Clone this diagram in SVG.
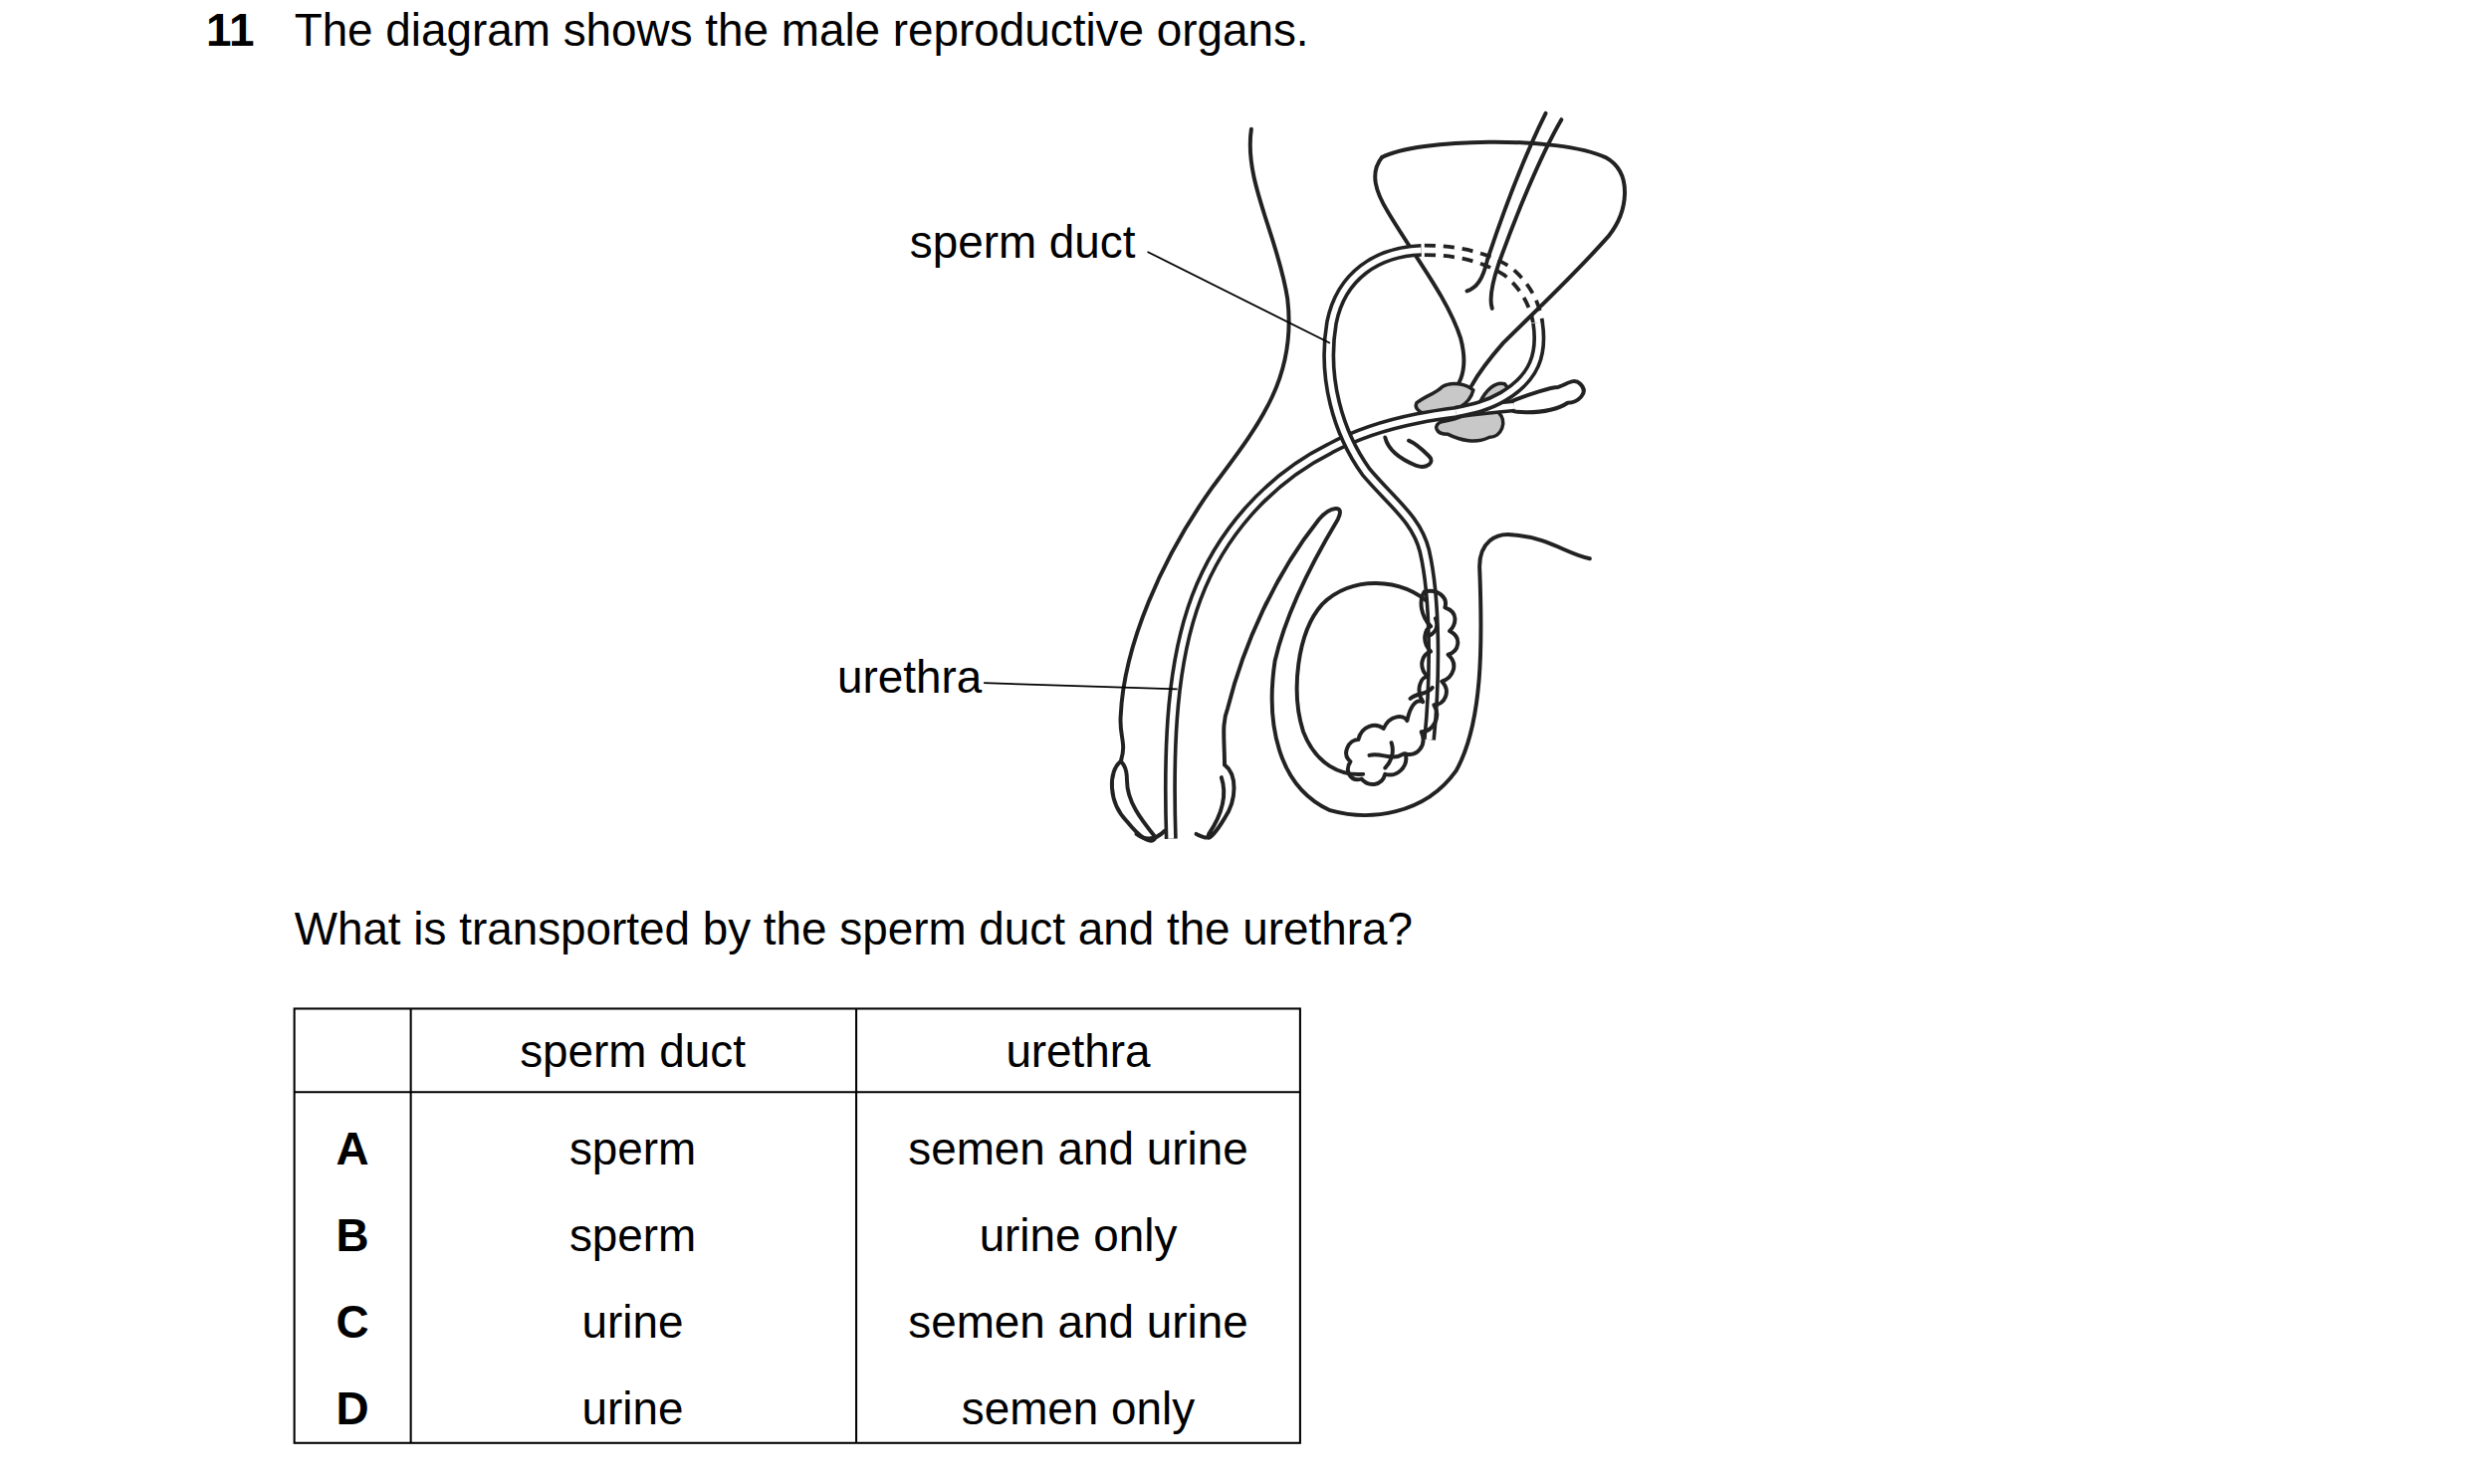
<svg xmlns="http://www.w3.org/2000/svg" width="2480" height="1491" viewBox="0 0 2480 1491">
<style>
.t{font-family:"Liberation Sans",Arial,sans-serif;font-size:29px;fill:#000}
.c{text-anchor:middle}
.b{font-weight:bold}
.o{fill:none;stroke:#222;stroke-width:2.5;stroke-linecap:round;stroke-linejoin:round}
.tb{fill:none;stroke:#222;stroke-width:8.2;stroke-linecap:butt}
.tw{fill:none;stroke:#fff;stroke-width:3.6;stroke-linecap:butt}
.d{fill:none;stroke:#222;stroke-width:2.4;stroke-dasharray:7,5}
.g{fill:#c8c8c8;stroke:#222;stroke-width:2.2}
.l{fill:none;stroke:#000;stroke-width:1.1}
.k{stroke:#000;stroke-width:1.3;fill:none}
</style>
<rect width="2480" height="1491" fill="#fff"/>
<g transform="scale(1.581)">
<g id="title">
<text class="t b" x="131" y="29">11</text>
<text class="t" x="187" y="29">The diagram shows the male reproductive organs.</text>
</g>
<g id="anatomy">
<path class="o" d="M795,82 C790,115 812,150 818,190 C824,240 800,270 770,310 C738,355 714,410 712,455 C711,468 716,472 712,484"/>
<path class="o" d="M712,484 C704,490 704,510 716,522 C724,532 732,538 734,532 C726,522 716,510 716,496 C716,486 712,484 712,484"/>
<path class="o" d="M740,528 C736,532 730,536 722,530"/>
<path class="o" d="M778,486 C778,470 776,460 780,450 C790,410 810,365 838,330 C845,322 855,320 850,330 C838,350 818,385 810,420 C804,460 812,500 845,515 C870,522 905,518 925,490 C942,460 942,410 940,360 C940,345 950,338 962,340 C985,342 995,352 1010,355"/>
<path class="o" d="M778,486 C786,492 786,508 778,520 C772,530 766,536 768,530 C776,518 780,506 776,494"/>
<path class="o" d="M760,530 C764,532 768,534 770,530"/>
<path class="o" d="M910,385 C890,366 858,366 840,384 C824,402 820,440 828,465 C836,486 852,493 866,492"/>
<path class="o" d="M878,100 C900,88 990,86 1020,100 C1038,110 1034,135 1022,150 C1000,175 975,198 955,218 C948,226 940,236 935,245"/>
<path class="o" d="M878,100 C870,110 874,122 882,135 C900,165 920,190 928,215 C932,230 930,242 922,250"/>
<path class="o" d="M982,72 C968,100 955,135 945,165 C942,178 938,183 932,185"/>
<path class="o" d="M992,76 C978,100 962,140 952,168 C948,180 946,190 948,196"/>
<path class="d" d="M905,156 C925,156 945,160 960,170 C972,180 978,192 980,205"/>
<path class="d" d="M905,162 C925,162 942,166 956,175 C966,183 972,194 974,205"/>
<path class="g" d="M900,256 C905,252 912,250 916,246 C922,242 932,244 936,248 C934,256 926,262 910,264 C904,264 898,260 900,256Z"/>
<path class="g" d="M940,256 C944,248 950,242 956,244 C960,248 958,256 952,262 C958,268 954,278 946,278 C938,282 928,280 920,276 C912,276 910,270 916,268 C928,266 936,262 940,256Z"/>
<path class="o" d="M958,256 C972,250 986,246 990,246 C996,244 1000,240 1004,244 C1010,250 1002,256 996,256 C990,260 980,262 970,262 C964,262 958,262 958,256"/>
<path class="o" d="M880,278 C882,286 890,292 900,296 C906,298 912,294 908,290 C904,286 900,282 895,280"/>
<path class="tb" d="M962,258 C920,262 880,266 845,285 C805,305 775,340 760,380 C745,420 742,470 744,533"/>
<path class="tw" d="M962,258 C920,262 880,266 845,285 C805,305 775,340 760,380 C745,420 742,470 744,533"/>
<path class="tb" d="M903,159 C875,160 852,175 846,205 C840,240 850,275 868,300 C885,320 900,330 905,350 C912,380 912,430 908,470"/>
<path class="tw" d="M903,159 C875,160 852,175 846,205 C840,240 850,275 868,300 C885,320 900,330 905,350 C912,380 912,430 908,470"/>
<path class="tb" d="M977,205 C980,225 975,240 955,252 C945,258 935,260 925,262"/>
<path class="tw" d="M977,205 C980,225 975,240 955,252 C945,258 935,260 925,262"/>
<path class="o" fill="#fff" d="M905,376 C914,374 920,380 918,386 C927,389 925,397 921,401 C929,405 927,414 920,416 C927,422 923,431 916,433 C922,439 918,448 911,448 C916,456 910,465 903,465 C907,474 900,481 893,479 C895,488 887,494 880,492 C878,500 869,500 865,495 C858,497 854,490 858,484 C852,479 857,470 863,470 C865,461 874,459 879,463 C883,454 892,454 894,458 C896,448 900,444 904,446 C899,438 903,430 907,430 C901,424 903,416 909,414 C903,408 905,400 909,398 C903,392 901,382 905,376Z"/>
<path class="o" d="M870,480 C878,478 884,484 892,479 M896,444 C900,440 906,442 910,437 M908,404 C912,402 914,398 912,393 M880,488 C884,484 886,478 884,472"/>
</g>
<g id="connectors">
<line class="l" x1="729" y1="160" x2="845" y2="218"/>
<line class="l" x1="625" y1="434" x2="748" y2="438"/>
</g>
<g id="labels">
<text class="t" x="578" y="164">sperm duct</text>
<text class="t" x="532" y="440">urethra</text>
</g>
<g id="question">
<text class="t" x="187" y="600">What is transported by the sperm duct and the urethra?</text>
</g>
<g id="table">
<rect class="k" x="187" y="641" width="639" height="276"/>
<line class="k" x1="261" y1="641" x2="261" y2="917"/>
<line class="k" x1="544" y1="641" x2="544" y2="917"/>
<line class="k" x1="187" y1="694" x2="826" y2="694"/>
<text class="t c" x="402" y="678">sperm duct</text>
<text class="t c" x="685" y="678">urethra</text>
<text class="t c b" x="224" y="740">A</text>
<text class="t c" x="402" y="740">sperm</text>
<text class="t c" x="685" y="740">semen and urine</text>
<text class="t c b" x="224" y="795">B</text>
<text class="t c" x="402" y="795">sperm</text>
<text class="t c" x="685" y="795">urine only</text>
<text class="t c b" x="224" y="850">C</text>
<text class="t c" x="402" y="850">urine</text>
<text class="t c" x="685" y="850">semen and urine</text>
<text class="t c b" x="224" y="905">D</text>
<text class="t c" x="402" y="905">urine</text>
<text class="t c" x="685" y="905">semen only</text>
</g>
</g>
</svg>
